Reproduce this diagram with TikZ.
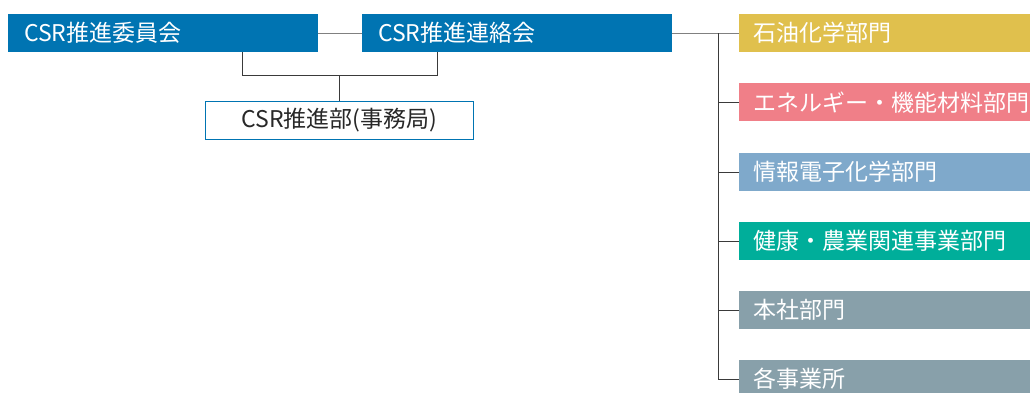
\documentclass[tikz,border=0pt]{standalone}
\usepackage{fontspec}
\setmainfont{Noto Sans CJK JP}
\definecolor{cblue}{RGB}{0,116,178}
\definecolor{cyellow}{RGB}{224,192,77}
\definecolor{cpink}{RGB}{240,127,136}
\definecolor{clblue}{RGB}{127,169,203}
\definecolor{cteal}{RGB}{0,174,154}
\definecolor{cgray}{RGB}{136,160,170}
\definecolor{lgray}{RGB}{128,128,128}
\definecolor{dline}{RGB}{58,58,58}
\definecolor{dtext}{RGB}{40,40,40}
\begin{document}
\begin{tikzpicture}[x=1pt,y=-1pt,
  topbox/.style={fill=cblue,text=white,anchor=north west,inner ysep=0pt,inner xsep=16pt,
    text width=278pt,minimum height=38pt,align=left,font=\fontsize{23}{27}\selectfont},
  sidebox/.style={fill=#1,text=white,anchor=north west,inner ysep=0pt,inner xsep=14pt,
    text width=263pt,minimum height=38pt,align=left,font=\fontsize{23}{27}\selectfont},
  officebox/.style={draw=cblue,line width=1.8pt,fill=white,text=dtext,inner sep=0pt,
    minimum width=268pt,minimum height=38pt,font=\fontsize{23}{27}\selectfont},
  graylink/.style={draw=lgray,line width=1.1pt},
  darklink/.style={draw=dline,line width=1.0pt}]
\useasboundingbox (0,0) rectangle (1030,392);
\node[topbox] (b1) at (8,14) {CSR推進委員会};
\node[topbox] (b2) at (362,14) {CSR推進連絡会};
\node[officebox] (b3) at (339.5,120.5) {CSR推進部(事務局)};
\node[sidebox=cyellow] (r1) at (739,14) {石油化学部門};
\node[sidebox=cpink] (r2) at (739,83) {エネルギー・機能材料部門};
\node[sidebox=clblue] (r3) at (739,153) {情報電子化学部門};
\node[sidebox=cteal] (r4) at (739,222) {健康・農業関連事業部門};
\node[sidebox=cgray] (r5) at (739,291) {本社部門};
\node[sidebox=cgray] (r6) at (739,360) {各事業所};
% left connectors
\draw[graylink] (b1.east) -- (b2.west);
\coordinate (j1) at (242,75);
\coordinate (j2) at (437,75);
\draw[darklink] (b1.south -| j1) -- (j1) -- (j2) -- (b2.south -| j2);
\draw[darklink] (b3.north) -- (b3.north |- j1);
% right connectors
\coordinate (trunk) at (718,33);
\draw[graylink] (b2.east) -- (r1.west);
\draw[darklink] (trunk) -- (trunk |- r6.west);
\foreach \r in {r2,r3,r4,r5,r6}{
  \draw[darklink] (trunk |- \r.west) -- (\r.west);
}
\end{tikzpicture}
\end{document}
